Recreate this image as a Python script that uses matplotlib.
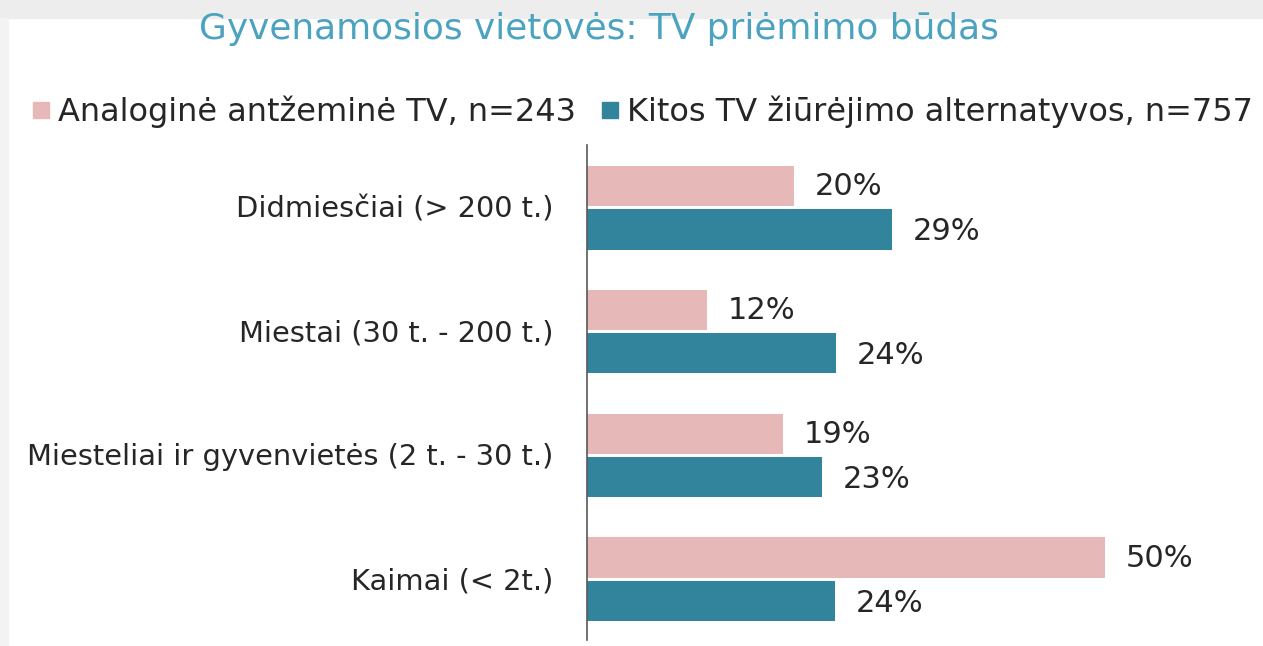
import numpy as np
import matplotlib.pyplot as plt
from matplotlib.lines import Line2D
from matplotlib.patches import Rectangle

categories = ['Didmiesčiai (> 200 t.)', 'Miestai (30 t. - 200 t.)',
              'Miesteliai ir gyvenvietės (2 t. - 30 t.)', 'Kaimai (< 2t.)']
analog = [20.0, 11.6, 18.9, 50.0]
other = [29.5, 24.1, 22.7, 24.0]
analog_labels = ['20%', '12%', '19%', '50%']
other_labels = ['29%', '24%', '23%', '24%']
series_names = ['Analoginė antžeminė TV, n=243', 'Kitos TV žiūrėjimo alternatyvos, n=757']

pink = '#E6B8B7'
teal = '#31849B'
txt = '#262626'

fig = plt.figure(figsize=(12.63, 6.46), dpi=100)
# light grey frame edges from the screenshot
fig.patches.append(Rectangle((0, 0.972), 1, 0.028, transform=fig.transFigure,
                             color='#EDEDED', zorder=0))
fig.patches.append(Rectangle((0, 0), 0.006, 0.972, transform=fig.transFigure,
                             color='#F3F3F3', zorder=0))

ax = fig.add_axes([587 / 1263, 6 / 646, 621 / 1263, 495 / 646])

y = np.arange(len(categories))
h = 0.325
ax.barh(y - h / 2 - 0.005, analog, height=h, color=pink)
ax.barh(y + h / 2 + 0.02, other, height=h, color=teal)

for yi, a, o, la, lo in zip(y, analog, other, analog_labels, other_labels):
    ax.text(a + 2.0, yi - h / 2, la, va='center', ha='left', fontsize=22, color=txt)
    ax.text(o + 2.0, yi + h / 2 + 0.04, lo, va='center', ha='left', fontsize=22, color=txt)

ax.set_xlim(0, 60)
ax.set_ylim(3.5, -0.5)
ax.set_yticks(y)
ax.set_yticklabels(categories, fontsize=20.8, color=txt)
ax.tick_params(axis='y', length=0, pad=24)
ax.set_xticks([])
for s in ['top', 'right', 'bottom']:
    ax.spines[s].set_visible(False)
ax.spines['left'].set_color('#595959')
ax.spines['left'].set_linewidth(1.2)

fig.text(599 / 1263, 1 - 29 / 646, 'Gyvenamosios vietovės: TV priėmimo būdas',
         ha='center', va='center', fontsize=25.8, color='#4BA3C0')

handles = [Line2D([], [], marker='s', linestyle='', color=pink, markersize=11),
           Line2D([], [], marker='s', linestyle='', color=teal, markersize=11)]
fig.legend(handles, series_names, loc='center', bbox_to_anchor=(643 / 1263, 1 - 112 / 646),
           ncol=2, frameon=False, fontsize=23, handlelength=0.5, handletextpad=0.3,
           columnspacing=0.8, labelcolor=txt, borderpad=0, borderaxespad=0)

fig.savefig('out.png', dpi=100)
